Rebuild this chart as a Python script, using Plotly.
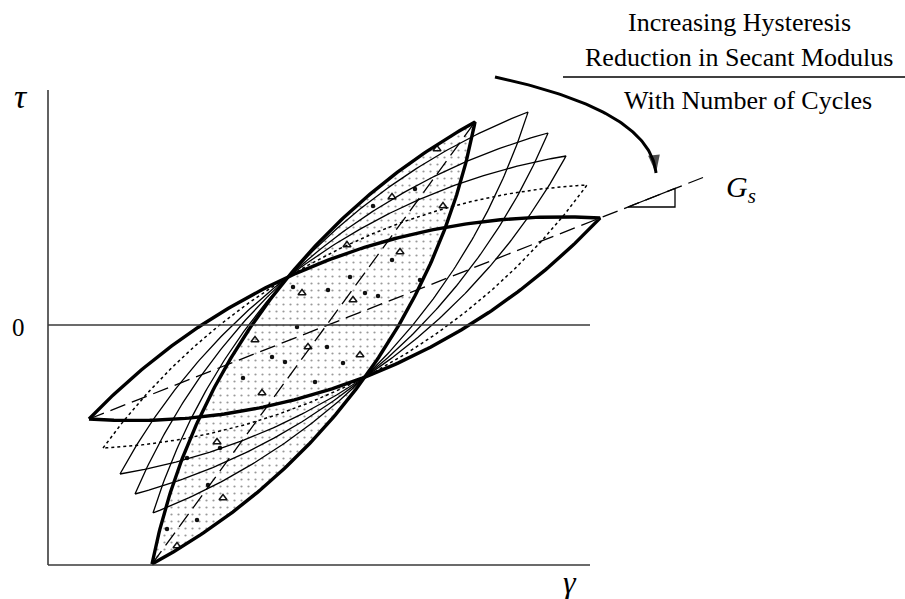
import numpy as np
import plotly.graph_objects as go

# ---- frame of the tau-gamma diagram (data units) ----
TAU_AXIS_TOP = 2.35
GAMMA_AXIS_END = 5.42
AXIS_BOTTOM = -2.40

# ---- hysteresis loops: lower-left and upper-right tips, stiffest cycle first ----
loop_names = ["Cycle 1", "Cycle 2", "Cycle 3", "Cycle 4", "Cycle 5", "Cycle N"]
lower_gamma = [1.04, 1.05, 0.87, 0.72, 0.55, 0.41]
lower_tau = [-2.39, -1.88, -1.69, -1.49, -1.23, -0.94]
upper_gamma = [4.27, 4.80, 5.00, 5.18, 5.39, 5.52]
upper_tau = [2.03, 2.13, 1.92, 1.69, 1.40, 1.07]
loop_style = ["thick", "thin", "thin", "thin", "dotted", "thick"]

# points shared by every loading / unloading branch
pivot_upper = (2.40, 0.48)
pivot_lower = (3.17, -0.52)

# secant of the last cycle is extended to carry the G_s slope triangle
secant_end_gamma = 6.55
triangle_gamma = [5.80, 6.27]

# aggregate symbols scattered inside the first cycle
tri_gamma = [2.54, 3.05, 3.12, 2.60, 2.07, 2.14, 2.99, 3.52, 3.44, 3.95, 3.89, 1.69, 1.75, 1.29]
tri_tau = [0.32, 0.25, -0.30, -0.22, -0.15, -0.68, 0.80, 0.73, 1.28, 1.19, 1.76, -1.17, -1.73, -2.21]
grain_gamma = [3.44, 2.80, 2.49, 2.37, 1.95, 2.67, 2.95, 3.72, 3.17, 2.79, 2.24, 3.67, 3.25,
               3.02, 2.45, 3.30, 1.72, 1.60, 1.49, 1.39, 1.19]
grain_tau = [0.65, 0.35, -0.02, -0.37, -0.53, -0.57, -0.38, 0.45, 0.32, -0.22, -0.32, 1.36, 1.19,
             0.48, 0.38, 0.29, -1.23, -1.60, -1.95, -1.33, -2.04]

# curved arrow from the caption down to the secant
arrow_start = (4.47, 2.48)
arrow_bend = (6.02, 2.15)
arrow_end = (6.08, 1.52)

SERIF = "Liberation Serif"


def arc(p0, p1, p2, n=160):
    """Circular arc from p0 through p1 to p2."""
    (x0, y0), (x1, y1), (x2, y2) = p0, p1, p2
    d = 2 * (x0 * (y1 - y2) + x1 * (y2 - y0) + x2 * (y0 - y1))
    t = np.linspace(0, 1, n)
    if abs(d) < 1e-9:
        return x0 + (x2 - x0) * t, y0 + (y2 - y0) * t
    s0, s1, s2 = x0**2 + y0**2, x1**2 + y1**2, x2**2 + y2**2
    ux = (s0 * (y1 - y2) + s1 * (y2 - y0) + s2 * (y0 - y1)) / d
    uy = (s0 * (x2 - x1) + s1 * (x0 - x2) + s2 * (x1 - x0)) / d
    r = np.hypot(x0 - ux, y0 - uy)
    a0 = np.arctan2(y0 - uy, x0 - ux)
    a1 = np.arctan2(y1 - uy, x1 - ux)
    a2 = np.arctan2(y2 - uy, x2 - ux)
    ccw = lambda a, b: (b - a) % (2 * np.pi)
    if ccw(a0, a1) < ccw(a0, a2):
        sweep = ccw(a0, a2)
    else:
        sweep = -((a0 - a2) % (2 * np.pi))
    ang = a0 + sweep * t
    return ux + r * np.cos(ang), uy + r * np.sin(ang)


def loop_outline(i):
    lo = (lower_gamma[i], lower_tau[i])
    hi = (upper_gamma[i], upper_tau[i])
    xa, ya = arc(lo, pivot_upper, hi)
    xb, yb = arc(hi, pivot_lower, lo)
    return np.concatenate([xa, xb]), np.concatenate([ya, yb])


def bezier(p0, p1, p2, n=80):
    t = np.linspace(0, 1, n)[:, None]
    pts = (1 - t) ** 2 * np.array(p0) + 2 * (1 - t) * t * np.array(p1) + t**2 * np.array(p2)
    return pts[:, 0], pts[:, 1]


fig = go.Figure()

# stippled first cycle
fx, fy = loop_outline(0)
fig.add_trace(go.Scatter(
    x=fx, y=fy, mode="none", fill="toself", fillcolor="rgba(0,0,0,0)",
    fillpattern=dict(shape=".", fgcolor="#333", bgcolor="rgba(0,0,0,0)", size=7, solidity=0.08),
    hoverinfo="skip", showlegend=False))
fig.add_trace(go.Scatter(
    x=tri_gamma, y=tri_tau, mode="markers",
    marker=dict(symbol="triangle-up-open", size=7, color="#111", line=dict(width=1.4)),
    hoverinfo="skip", showlegend=False))
fig.add_trace(go.Scatter(
    x=grain_gamma, y=grain_tau, mode="markers",
    marker=dict(symbol="circle", size=4.5, color="#111"),
    hoverinfo="skip", showlegend=False))

# loops: thin and dotted ones below, thick ones on top
style_map = {
    "thin": dict(width=1.3, dash="solid"),
    "dotted": dict(width=1.5, dash="dot"),
    "thick": dict(width=3.4, dash="solid"),
}
for order in ["dotted", "thin", "thick"]:
    for i, name in enumerate(loop_names):
        if loop_style[i] != order:
            continue
        lx, ly = loop_outline(i)
        st = style_map[order]
        fig.add_trace(go.Scatter(
            x=lx, y=ly, mode="lines", name=name,
            line=dict(color="black", width=st["width"], dash=st["dash"]),
            hoverinfo="skip", showlegend=False))

# secant of the first cycle
fig.add_trace(go.Scatter(
    x=[lower_gamma[0], upper_gamma[0]], y=[lower_tau[0], upper_tau[0]], mode="lines",
    line=dict(color="black", width=1.3, dash="16px,7px"), hoverinfo="skip", showlegend=False))

# secant of the last cycle, extended past its tip
k = len(loop_names) - 1
slope = (upper_tau[k] - lower_tau[k]) / (upper_gamma[k] - lower_gamma[k])
sec = lambda g: lower_tau[k] + slope * (g - lower_gamma[k])
fig.add_trace(go.Scatter(
    x=[lower_gamma[k], secant_end_gamma], y=[lower_tau[k], sec(secant_end_gamma)], mode="lines",
    line=dict(color="black", width=1.3, dash="16px,7px"), hoverinfo="skip", showlegend=False))

# G_s slope triangle on the secant
g0, g1 = triangle_gamma
fig.add_trace(go.Scatter(
    x=[g0, g1, g1, g0], y=[sec(g0), sec(g1), sec(g0), sec(g0)], mode="lines",
    line=dict(color="black", width=1.3), hoverinfo="skip", showlegend=False))

# axes and zero line
axis_line = dict(color="#3a3a3a", width=1.6)
fig.add_trace(go.Scatter(x=[0, 0], y=[AXIS_BOTTOM, TAU_AXIS_TOP], mode="lines",
                         line=axis_line, hoverinfo="skip", showlegend=False))
fig.add_trace(go.Scatter(x=[0, GAMMA_AXIS_END], y=[AXIS_BOTTOM, AXIS_BOTTOM], mode="lines",
                         line=axis_line, hoverinfo="skip", showlegend=False))
fig.add_trace(go.Scatter(x=[0, GAMMA_AXIS_END], y=[0, 0], mode="lines",
                         line=dict(color="#3a3a3a", width=1.4), hoverinfo="skip", showlegend=False))

# curved arrow, head drawn as an arrow marker on its last point
ax_, ay_ = bezier(arrow_start, arrow_bend, arrow_end)
head_size = [0] * (len(ax_) - 1) + [19]
fig.add_trace(go.Scatter(
    x=ax_, y=ay_, mode="lines+markers", line=dict(color="black", width=3),
    marker=dict(symbol="arrow", angleref="previous", size=head_size, color="black",
                line=dict(width=0)),
    hoverinfo="skip", showlegend=False))

# caption block
fig.add_annotation(x=6.91, y=3.03, text="Increasing Hysteresis", showarrow=False,
                   font=dict(family=SERIF, size=26, color="black"))
fig.add_annotation(x=6.91, y=2.68, text="Reduction in Secant Modulus", showarrow=False,
                   font=dict(family=SERIF, size=26, color="black"))
fig.add_trace(go.Scatter(x=[5.15, 8.57], y=[2.48, 2.48], mode="lines",
                         line=dict(color="black", width=1.4), hoverinfo="skip", showlegend=False))
fig.add_annotation(x=7.00, y=2.25, text="With Number of Cycles", showarrow=False,
                   font=dict(family=SERIF, size=26, color="black"))

# axis labels
fig.add_annotation(x=-0.27, y=2.29, text="<i>τ</i>", showarrow=False,
                   font=dict(family=SERIF, size=34, color="black"))
fig.add_annotation(x=-0.30, y=-0.02, text="0", showarrow=False,
                   font=dict(family=SERIF, size=25, color="black"))
fig.add_annotation(x=5.22, y=-2.57, text="<i>γ</i>", showarrow=False,
                   font=dict(family=SERIF, size=32, color="black"))
fig.add_annotation(x=6.93, y=1.36, text="<i>G<sub>s</sub></i>", showarrow=False,
                   font=dict(family=SERIF, size=30, color="black"))

fig.update_layout(
    width=905, height=599,
    margin=dict(l=0, r=0, t=0, b=0),
    paper_bgcolor="white", plot_bgcolor="white",
    xaxis=dict(range=[-0.48, 8.57], visible=False, fixedrange=True),
    yaxis=dict(range=[-2.74, 3.25], visible=False, fixedrange=True),
    showlegend=False,
)

fig.write_html("out.html")
